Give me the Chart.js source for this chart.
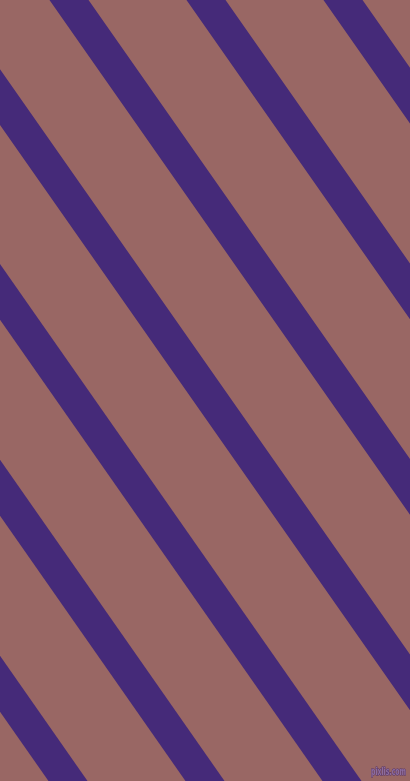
<!DOCTYPE html>
<html>
<head>
<meta charset="utf-8">
<script src="https://cdn.jsdelivr.net/npm/chart.js@4/dist/chart.umd.min.js"></script>
<style>
  html, body { margin: 0; padding: 0; background: #996764; overflow: hidden; }
  #wrap { position: relative; width: 410px; height: 781px; }
  canvas { display: block; }
</style>
</head>
<body>
<div id="wrap"><canvas id="c" width="410" height="781"></canvas></div>
<script>
// Stripe centre lines: x where each stripe meets the top edge (y = 0)
// and x where it meets the bottom edge (y = 781).
const stripeNames   = ["s1", "s2", "s3", "s4", "s5", "s6", "s7"];
const stripeTopX    = [-478, -341, -204, -68, 69, 206, 343];
const stripeBottomX = [68, 205, 342, 479, 616, 753, 890];
const edgeY         = [0, 781];
const watermark     = "pixlis.com";

const STRIPE = "#452A79";
const BG = "#996764";

const datasets = stripeNames.map((name, i) => ({
  label: name,
  data: [
    { x: stripeTopX[i], y: edgeY[0] },
    { x: stripeBottomX[i], y: edgeY[1] }
  ],
  showLine: true,
  borderColor: STRIPE,
  borderWidth: 32,
  borderCapStyle: "square",
  pointRadius: 0,
  pointHoverRadius: 0,
  fill: false,
  tension: 0
}));

const bgPlugin = {
  id: "bg",
  beforeDraw(chart) {
    const ctx = chart.ctx;
    ctx.save();
    ctx.fillStyle = BG;
    ctx.fillRect(0, 0, chart.width, chart.height);
    ctx.restore();
  },
  afterDraw(chart) {
    const ctx = chart.ctx;
    ctx.save();
    ctx.font = "bold 11px 'DejaVu Sans'";
    const w = ctx.measureText(watermark).width;
    const targetW = 35;
    ctx.translate(406 - targetW, 775);
    ctx.scale(targetW / w, 1);
    ctx.textAlign = "left";
    ctx.textBaseline = "alphabetic";
    ctx.lineWidth = 1.2;
    ctx.strokeStyle = "#50306e";
    ctx.fillStyle = "#8e6e9e";
    ctx.strokeText(watermark, 0, 0);
    ctx.fillText(watermark, 0, 0);
    ctx.restore();
  }
};

new Chart(document.getElementById("c"), {
  type: "scatter",
  data: { datasets },
  options: {
    responsive: false,
    animation: false,
    devicePixelRatio: 1,
    layout: { padding: 0 },
    plugins: { legend: { display: false }, tooltip: { enabled: false }, title: { display: false } },
    events: [],
    scales: {
      x: { type: "linear", min: 0, max: 410, display: false },
      y: { type: "linear", min: 0, max: 781, reverse: true, display: false }
    }
  },
  plugins: [bgPlugin]
});
</script>
</body>
</html>
